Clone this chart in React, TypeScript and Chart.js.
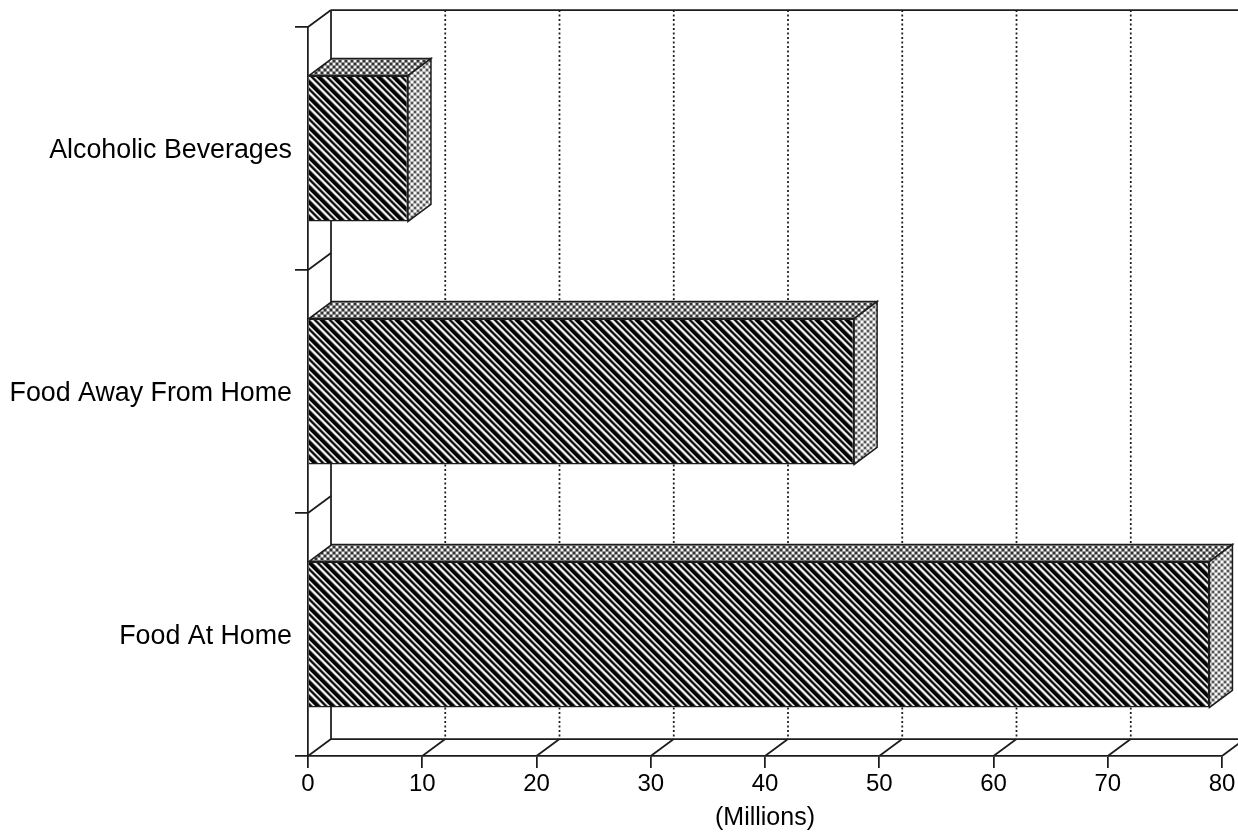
import React, { useEffect, useRef } from "react";
import { Chart, registerables } from "chart.js";

Chart.register(...registerables);

const categories = ["Alcoholic Beverages", "Food Away From Home", "Food At Home"];
const spending = [8.75, 47.8, 78.9];
const xTicks = [0, 10, 20, 30, 40, 50, 60, 70, 80];
const xTitle = "(Millions)";

const DX = 23;
const DY = -17;
const INK = "#1c1c1c";
const FONT = "'Liberation Sans', Arial, sans-serif";

function stripePattern(ctx: CanvasRenderingContext2D) {
  const n = 15;
  const tile = document.createElement("canvas");
  tile.width = n;
  tile.height = n;
  const t = tile.getContext("2d")!;
  const shades = ["#000", "#000", "#000", "#000", "#222", "#888", "#e8e8e8", "#fff", "#aaa", "#222", "#000", "#333", "#aaa", "#f0f0f0", "#888"];
  for (let y = 0; y < n; y++) {
    for (let x = 0; x < n; x++) {
      t.fillStyle = shades[((x - y) % n + n) % n];
      t.fillRect(x, y, 1, 1);
    }
  }
  return ctx.createPattern(tile, "repeat")!;
}

function dotPattern(ctx: CanvasRenderingContext2D, back: string, blob: string, gap: string) {
  const n = 6;
  const tile = document.createElement("canvas");
  tile.width = n;
  tile.height = n;
  const t = tile.getContext("2d")!;
  t.fillStyle = back;
  t.fillRect(0, 0, n, n);
  t.fillStyle = blob;
  t.fillRect(0, 0, 2, 2);
  t.fillRect(3, 3, 2, 2);
  t.fillStyle = gap;
  t.fillRect(3, 0, 2, 2);
  t.fillRect(0, 3, 2, 2);
  return ctx.createPattern(tile, "repeat")!;
}

const depthPlugin = {
  id: "depth",
  beforeDatasetsDraw(chart: any) {
    const { ctx, chartArea, scales } = chart;
    const { left, top, bottom } = chartArea;
    const x = scales.x;
    ctx.save();
    ctx.lineWidth = 1.75;
    ctx.strokeStyle = INK;
    const line = (a: number, b: number, c: number, d: number) => {
      ctx.beginPath();
      ctx.moveTo(a, b);
      ctx.lineTo(c, d);
      ctx.stroke();
    };
    line(left + DX, top + DY, left + DX, bottom + DY);
    line(left + DX, top + DY, chart.width, top + DY);
    line(left + DX, bottom + DY, chart.width, bottom + DY);
    ctx.save();
    ctx.setLineDash([2, 2.5]);
    x.ticks.forEach((_: any, i: number) => {
      if (i === 0) return;
      const px = x.getPixelForTick(i) + DX;
      line(px, top + DY, px, bottom + DY);
    });
    ctx.restore();
    x.ticks.forEach((_: any, i: number) => {
      const px = x.getPixelForTick(i);
      line(px, bottom, px + DX, bottom + DY);
    });
    const n = categories.length;
    for (let i = 0; i < n; i++) {
      const py = top + ((bottom - top) * i) / n;
      line(left, py, left + DX, py + DY);
    }
    ctx.restore();
  },
  afterDatasetsDraw(chart: any) {
    const { ctx } = chart;
    const meta = chart.getDatasetMeta(0);
    const topFace = dotPattern(ctx, "#8c8c8c", "#f4f4f4", "#333");
    const sideFace = dotPattern(ctx, "#b8b8b8", "#fafafa", "#555");
    ctx.save();
    ctx.lineWidth = 1.5;
    ctx.strokeStyle = INK;
    meta.data.forEach((bar: any) => {
      const b = bar.getProps(["x", "y", "base", "height"], true);
      const t = b.y - b.height / 2;
      const u = b.y + b.height / 2;
      ctx.fillStyle = topFace;
      ctx.beginPath();
      ctx.moveTo(b.base, t);
      ctx.lineTo(b.base + DX, t + DY);
      ctx.lineTo(b.x + DX, t + DY);
      ctx.lineTo(b.x, t);
      ctx.closePath();
      ctx.fill();
      ctx.stroke();
      ctx.fillStyle = sideFace;
      ctx.beginPath();
      ctx.moveTo(b.x, t);
      ctx.lineTo(b.x + DX, t + DY);
      ctx.lineTo(b.x + DX, u + DY);
      ctx.lineTo(b.x, u);
      ctx.closePath();
      ctx.fill();
      ctx.stroke();
    });
    ctx.restore();
  },
};

export default function App() {
  const ref = useRef<HTMLCanvasElement>(null);
  useEffect(() => {
    document.body.style.margin = "0";
    document.body.style.background = "#fff";
    const canvas = ref.current!;
    const ctx = canvas.getContext("2d")!;
    const chart = new Chart(canvas, {
      type: "bar",
      data: {
        labels: categories,
        datasets: [
          {
            data: spending,
            backgroundColor: stripePattern(ctx),
            borderColor: INK,
            borderWidth: 1.5,
            barPercentage: 0.6,
            categoryPercentage: 1,
          },
        ],
      },
      options: {
        indexAxis: "y",
        responsive: false,
        animation: false,
        events: [],
        layout: { padding: { top: 27, right: 16, left: 0, bottom: 0 } },
        plugins: { legend: { display: false }, tooltip: { enabled: false } },
        scales: {
          x: {
            min: 0,
            max: 80,
            afterBuildTicks: (s: any) => {
              s.ticks = xTicks.map((value) => ({ value }));
            },
            afterFit: (s: any) => {
              s.height = 79;
              s.paddingLeft = 0;
              s.paddingRight = 0;
            },
            grid: { drawOnChartArea: false, drawTicks: true, tickLength: 12, color: INK, lineWidth: 1.75 },
            border: { color: INK, width: 1.75 },
            ticks: { color: "#000", font: { family: FONT, size: 24 }, padding: 2, maxRotation: 0, autoSkip: false },
            title: { display: true, text: xTitle, color: "#000", font: { family: FONT, size: 25 }, padding: { top: 0, bottom: 2 } },
          },
          y: {
            afterFit: (s: any) => {
              s.width = 308;
              s.paddingTop = 0;
              s.paddingBottom = 0;
            },
            grid: { drawOnChartArea: false, drawTicks: true, tickLength: 13, color: INK, lineWidth: 1.75 },
            border: { color: INK, width: 1.75 },
            ticks: { color: "#000", font: { family: FONT, size: 26.8 }, padding: 3, labelOffset: 2.5 },
          },
        },
      },
      plugins: [depthPlugin],
    } as any);
    return () => chart.destroy();
  }, []);
  return <canvas ref={ref} width={1238} height={835} style={{ display: "block" }} />;
}
